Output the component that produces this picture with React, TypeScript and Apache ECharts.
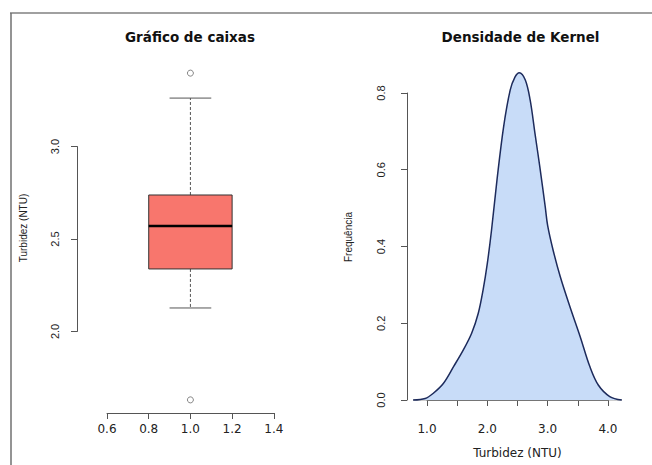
import React, { useEffect, useRef } from "react";
import * as echarts from "echarts";

// ---- Data: box plot (Turbidez, NTU) ----
// [x, lower whisker, Q1, median, Q3, upper whisker]
const boxStats = [[1.0, 2.127, 2.338, 2.57, 2.738, 3.262]];
const boxOutliers = [
  [1.0, 3.397],
  [1.0, 1.63],
];
const boxXTicks = [0.6, 0.8, 1.0, 1.2, 1.4];
const boxYTicks = [2.0, 2.5, 3.0];

// ---- Data: kernel density ----
const densityX = [
  0.77, 0.97, 1.1, 1.27, 1.44, 1.6, 1.74, 1.85, 1.93, 2.0, 2.07, 2.16, 2.27,
  2.38, 2.46, 2.53, 2.63, 2.71, 2.79, 2.87, 2.96, 3.0, 3.09, 3.21, 3.37, 3.54,
  3.7, 3.84, 4.03, 4.23,
];
const densityY = [
  0.0, 0.004, 0.017, 0.043, 0.087, 0.13, 0.174, 0.226, 0.287, 0.356, 0.443,
  0.573, 0.712, 0.808, 0.842, 0.853, 0.834, 0.782, 0.695, 0.608, 0.504, 0.455,
  0.391, 0.321, 0.243, 0.165, 0.087, 0.039, 0.009, 0.0,
];
const densityXTicks = [1.0, 1.5, 2.0, 2.5, 3.0, 3.5, 4.0];
const densityYTicks = [0.0, 0.2, 0.4, 0.6, 0.8];

const titles = ["Gráfico de caixas", "Densidade de Kernel"];
const yNames = ["Turbidez (NTU)", "Frequência"];
const xNames = ["", "Turbidez (NTU)"];

// ---- Layout (pixel plot regions and their value limits) ----
type Panel = {
  x0: number; x1: number; y0: number; y1: number;
  xmin: number; xmax: number; ymin: number; ymax: number;
};
const LP: Panel = { x0: 77, x1: 303, y0: 60, y1: 413, xmin: 0.456, xmax: 1.54, ymin: 1.559, ymax: 3.468 };
const RP: Panel = { x0: 407, x1: 630, y0: 60, y1: 413, xmin: 0.668, xmax: 4.366, ymin: -0.0339, ymax: 0.886 };

const px = (p: Panel, v: number) => p.x0 + ((v - p.xmin) / (p.xmax - p.xmin)) * (p.x1 - p.x0);
const py = (p: Panel, v: number) => p.y1 - ((v - p.ymin) / (p.ymax - p.ymin)) * (p.y1 - p.y0);

const AXIS_COLOR = "#555";
const TEXT_COLOR = "#222";
const H_FONT = "DejaVu Sans";
const V_FONT = "'Liberation Sans Narrow', 'Liberation Sans', Arial";

function dataGrid(p: Panel) {
  return { left: p.x0, top: p.y0, width: p.x1 - p.x0, height: p.y1 - p.y0 };
}
function axisGrid(p: Panel, xt: number[], yt: number[]) {
  const l = px(p, xt[0]);
  const r = px(p, xt[xt.length - 1]);
  const t = py(p, yt[yt.length - 1]);
  const b = py(p, yt[0]);
  return { left: l, top: t, width: r - l, height: b - t };
}

function buildOption() {
  const fmt1 = (v: number) => v.toFixed(1);
  const xAxisCommon = (grid: number, p: Panel, ticks: number[], yt: number[], formatter: (v: number) => string) => ({
    type: "value",
    gridIndex: grid,
    position: "bottom",
    min: ticks[0],
    max: ticks[ticks.length - 1],
    interval: ticks[1] - ticks[0],
    offset: p.y1 - py(p, yt[0]),
    axisLine: { show: true, lineStyle: { color: AXIS_COLOR, width: 1 } },
    axisTick: { show: true, length: 6, lineStyle: { color: AXIS_COLOR } },
    axisLabel: {
      show: true,
      margin: 10,
      color: TEXT_COLOR,
      fontFamily: H_FONT,
      fontSize: 12,
      formatter,
      showMinLabel: true,
      showMaxLabel: true,
    },
    splitLine: { show: false },
  });
  const yAxisCommon = (grid: number, p: Panel, ticks: number[], xt: number[], margin: number) => ({
    type: "value",
    gridIndex: grid,
    position: "left",
    min: ticks[0],
    max: ticks[ticks.length - 1],
    interval: ticks[1] - ticks[0],
    offset: px(p, xt[0]) - p.x0,
    axisLine: { show: true, lineStyle: { color: AXIS_COLOR, width: 1 } },
    axisTick: { show: true, length: 6, lineStyle: { color: AXIS_COLOR } },
    axisLabel: {
      show: true,
      rotate: 90,
      margin,
      color: TEXT_COLOR,
      fontFamily: V_FONT,
      fontSize: 11,
      formatter: fmt1,
      showMinLabel: true,
      showMaxLabel: true,
    },
    splitLine: { show: false },
  });
  const hiddenAxis = (grid: number, min: number, max: number) => ({
    type: "value",
    gridIndex: grid,
    min,
    max,
    show: false,
  });

  const densityData = densityX.map((x, i) => [x, densityY[i]]);
  const baseline = [
    [densityX[0], 0],
    [densityX[densityX.length - 1], 0],
  ];

  const BOX_HALF = 0.2;
  const CAP_HALF = 0.1;

  return {
    animation: false,
    backgroundColor: "#ffffff",
    grid: [
      dataGrid(LP),
      axisGrid(LP, boxXTicks, boxYTicks),
      dataGrid(RP),
      axisGrid(RP, densityXTicks, densityYTicks),
    ],
    xAxis: [
      hiddenAxis(0, LP.xmin, LP.xmax),
      xAxisCommon(1, LP, boxXTicks, boxYTicks, fmt1),
      hiddenAxis(2, RP.xmin, RP.xmax),
      xAxisCommon(3, RP, densityXTicks, densityYTicks, (v: number) =>
        Math.abs(v - Math.round(v)) < 1e-6 ? v.toFixed(1) : ""
      ),
    ],
    yAxis: [
      hiddenAxis(0, LP.ymin, LP.ymax),
      yAxisCommon(1, LP, boxYTicks, boxXTicks, 17),
      hiddenAxis(2, RP.ymin, RP.ymax),
      yAxisCommon(3, RP, densityYTicks, densityXTicks, 21),
    ],
    series: [
      {
        type: "custom",
        xAxisIndex: 0,
        yAxisIndex: 0,
        data: boxStats,
        encode: { x: 0, y: [1, 2, 3, 4, 5] },
        renderItem: (params: any, api: any) => {
          const x = api.value(0);
          const low = api.value(1);
          const q1 = api.value(2);
          const med = api.value(3);
          const q3 = api.value(4);
          const high = api.value(5);
          const c = (a: number, b: number) => api.coord([a, b]);
          const tl = c(x - BOX_HALF, q3);
          const br = c(x + BOX_HALF, q1);
          const mid = (a: number) => c(x, a);
          const whiskerStyle = { stroke: "#555", lineWidth: 1, lineDash: [3, 2] };
          const capStyle = { stroke: "#555", lineWidth: 1 };
          return {
            type: "group",
            children: [
              { type: "line", shape: { x1: mid(q3)[0], y1: mid(q3)[1], x2: mid(high)[0], y2: mid(high)[1] }, style: whiskerStyle },
              { type: "line", shape: { x1: mid(q1)[0], y1: mid(q1)[1], x2: mid(low)[0], y2: mid(low)[1] }, style: whiskerStyle },
              { type: "line", shape: { x1: c(x - CAP_HALF, high)[0], y1: c(x, high)[1], x2: c(x + CAP_HALF, high)[0], y2: c(x, high)[1] }, style: capStyle },
              { type: "line", shape: { x1: c(x - CAP_HALF, low)[0], y1: c(x, low)[1], x2: c(x + CAP_HALF, low)[0], y2: c(x, low)[1] }, style: capStyle },
              {
                type: "rect",
                shape: { x: tl[0], y: tl[1], width: br[0] - tl[0], height: br[1] - tl[1] },
                style: { fill: "#F8766D", stroke: "#333", lineWidth: 1 },
              },
              {
                type: "line",
                shape: { x1: tl[0], y1: c(x, med)[1], x2: br[0], y2: c(x, med)[1] },
                style: { stroke: "#000", lineWidth: 2.5 },
              },
            ],
          };
        },
      },
      {
        type: "scatter",
        xAxisIndex: 0,
        yAxisIndex: 0,
        data: boxOutliers,
        symbol: "circle",
        symbolSize: 6,
        itemStyle: { color: "rgba(255,255,255,0)", borderColor: "#555", borderWidth: 0.9 },
        z: 5,
      },
      {
        type: "line",
        xAxisIndex: 2,
        yAxisIndex: 2,
        data: baseline,
        showSymbol: false,
        lineStyle: { color: "#999", width: 1 },
        z: 1,
      },
      {
        type: "line",
        xAxisIndex: 2,
        yAxisIndex: 2,
        data: densityData,
        smooth: 0.35,
        showSymbol: false,
        lineStyle: { color: "#1d2b5c", width: 1.5 },
        areaStyle: { color: "#c8dcf8", opacity: 1 },
        z: 3,
      },
    ],
    graphic: [
      { type: "line", shape: { x1: 10, y1: 13, x2: 652, y2: 13 }, style: { stroke: "#a0a0a0", lineWidth: 2 } },
      { type: "line", shape: { x1: 11, y1: 13, x2: 11, y2: 465 }, style: { stroke: "#707070", lineWidth: 1.5 } },
      {
        type: "text",
        x: (LP.x0 + LP.x1) / 2,
        y: 37,
        style: { text: titles[0], font: `bold 13.5px ${H_FONT}`, fill: "#111", textAlign: "center", textVerticalAlign: "middle" },
      },
      {
        type: "text",
        x: (RP.x0 + RP.x1) / 2 + 2,
        y: 37,
        style: { text: titles[1], font: `bold 13.5px ${H_FONT}`, fill: "#111", textAlign: "center", textVerticalAlign: "middle" },
      },
      {
        type: "text",
        x: 23,
        y: py(LP, 2.5) - 11,
        rotation: Math.PI / 2,
        style: { text: yNames[0], font: `10px ${V_FONT}`, fill: TEXT_COLOR, textAlign: "center", textVerticalAlign: "middle" },
      },
      {
        type: "text",
        x: 348,
        y: 237,
        rotation: Math.PI / 2,
        style: { text: yNames[1], font: `10px ${V_FONT}`, fill: TEXT_COLOR, textAlign: "center", textVerticalAlign: "middle" },
      },
      {
        type: "text",
        x: px(RP, 2.5),
        y: 453,
        style: { text: xNames[1], font: `12px ${H_FONT}`, fill: TEXT_COLOR, textAlign: "center", textVerticalAlign: "middle" },
      },
    ],
  };
}

export default function App() {
  const ref = useRef<HTMLDivElement>(null);
  useEffect(() => {
    if (!ref.current) return;
    const chart = echarts.init(ref.current, undefined, { renderer: "svg" });
    chart.setOption(buildOption() as any);
    return () => chart.dispose();
  }, []);
  return (
    <div
      ref={ref}
      style={{ position: "absolute", left: 0, top: 0, width: 652, height: 465, background: "#fff" }}
    />
  );
}
